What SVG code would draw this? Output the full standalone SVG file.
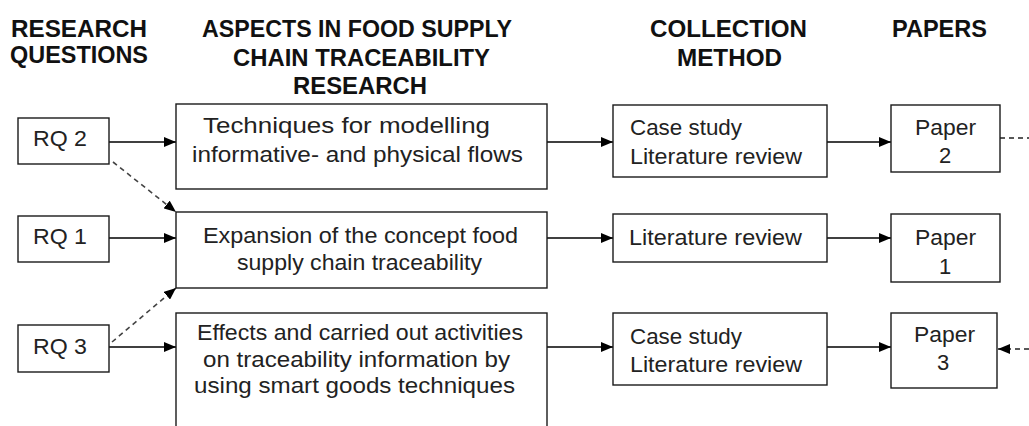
<svg xmlns="http://www.w3.org/2000/svg" width="1029" height="426" viewBox="0 0 1029 426">
<defs>
<marker id="ah" markerUnits="userSpaceOnUse" markerWidth="12" markerHeight="10" refX="12" refY="5" orient="auto">
<path d="M0,0 L12,5 L0,10 z" fill="#000"/>
</marker>
<style>
.box{fill:#fff;stroke:#1a1a1a;stroke-width:1.4}
.t{font-family:"Liberation Sans",Arial,sans-serif;font-size:22px;fill:#222}
.h{font-family:"Liberation Sans",Arial,sans-serif;font-size:23px;font-weight:bold;fill:#111}
.c{stroke:#000;stroke-width:1.4;fill:none}
.d{stroke:#444;stroke-width:1.6;fill:none;stroke-dasharray:5 4}
</style>
</defs>
<rect width="1029" height="426" fill="#fff"/>

<g id="headers">
<text class="h" x="11" y="37" textLength="136" lengthAdjust="spacingAndGlyphs">RESEARCH</text>
<text class="h" x="10" y="63" textLength="138" lengthAdjust="spacingAndGlyphs">QUESTIONS</text>
<text class="h" x="202" y="37" textLength="310" lengthAdjust="spacingAndGlyphs">ASPECTS IN FOOD SUPPLY</text>
<text class="h" x="233" y="66" textLength="257" lengthAdjust="spacingAndGlyphs">CHAIN TRACEABILITY</text>
<text class="h" x="293" y="94" textLength="134" lengthAdjust="spacingAndGlyphs">RESEARCH</text>
<text class="h" x="650" y="37" textLength="157" lengthAdjust="spacingAndGlyphs">COLLECTION</text>
<text class="h" x="677" y="66" textLength="105" lengthAdjust="spacingAndGlyphs">METHOD</text>
<text class="h" x="892" y="37" textLength="95" lengthAdjust="spacingAndGlyphs">PAPERS</text>
</g>

<g id="connectors">
<line class="c" x1="109" y1="142" x2="176" y2="142" marker-end="url(#ah)"/>
<line class="c" x1="547" y1="142" x2="613" y2="142" marker-end="url(#ah)"/>
<line class="c" x1="827" y1="142" x2="891" y2="142" marker-end="url(#ah)"/>
<line class="d" x1="1000" y1="138" x2="1029" y2="138" style="stroke:#222"/>
<line class="c" x1="109" y1="238" x2="176" y2="238" marker-end="url(#ah)"/>
<line class="c" x1="547" y1="238" x2="613" y2="238" marker-end="url(#ah)"/>
<line class="c" x1="827" y1="238" x2="891" y2="238" marker-end="url(#ah)"/>
<line class="c" x1="109" y1="347" x2="176" y2="347" marker-end="url(#ah)"/>
<line class="c" x1="547" y1="347" x2="613" y2="347" marker-end="url(#ah)"/>
<line class="c" x1="827" y1="347" x2="891" y2="347" marker-end="url(#ah)"/>
<line class="d" x1="1029" y1="349" x2="998" y2="349" style="stroke:#222" marker-end="url(#ah)"/>
<line class="d" x1="113" y1="162" x2="176" y2="212" marker-end="url(#ah)"/>
<line class="d" x1="112" y1="342" x2="176" y2="288" marker-end="url(#ah)"/>
</g>

<g id="rq2">
<rect class="box" x="18" y="118" width="91" height="46"/>
<text class="t" x="33" y="146" textLength="54" lengthAdjust="spacingAndGlyphs">RQ 2</text>
</g>
<g id="rq1">
<rect class="box" x="18" y="216" width="91" height="46"/>
<text class="t" x="33" y="244" textLength="54" lengthAdjust="spacingAndGlyphs">RQ 1</text>
</g>
<g id="rq3">
<rect class="box" x="18" y="325" width="91" height="47"/>
<text class="t" x="33" y="354" textLength="54" lengthAdjust="spacingAndGlyphs">RQ 3</text>
</g>

<g id="aspect-techniques">
<rect class="box" x="176" y="104" width="371" height="85"/>
<text class="t" x="203" y="133" textLength="287" lengthAdjust="spacingAndGlyphs">Techniques for modelling</text>
<text class="t" x="192" y="162" textLength="331" lengthAdjust="spacingAndGlyphs">informative- and physical flows</text>
</g>
<g id="aspect-expansion">
<rect class="box" x="176" y="212" width="371" height="76"/>
<text class="t" x="203" y="243" textLength="315" lengthAdjust="spacingAndGlyphs">Expansion of the concept food</text>
<text class="t" x="237" y="270" textLength="245" lengthAdjust="spacingAndGlyphs">supply chain traceability</text>
</g>
<g id="aspect-effects">
<rect class="box" x="176" y="313" width="371" height="130"/>
<text class="t" x="197" y="340" textLength="326" lengthAdjust="spacingAndGlyphs">Effects and carried out activities</text>
<text class="t" x="203" y="367" textLength="307" lengthAdjust="spacingAndGlyphs">on traceability information by</text>
<text class="t" x="194" y="393" textLength="321" lengthAdjust="spacingAndGlyphs">using smart goods techniques</text>
</g>

<g id="method-1">
<rect class="box" x="613" y="105" width="214" height="72"/>
<text class="t" x="630" y="135" textLength="112" lengthAdjust="spacingAndGlyphs">Case study</text>
<text class="t" x="630" y="164" textLength="172" lengthAdjust="spacingAndGlyphs">Literature review</text>
</g>
<g id="method-2">
<rect class="box" x="613" y="214" width="214" height="48"/>
<text class="t" x="629" y="245" textLength="173" lengthAdjust="spacingAndGlyphs">Literature review</text>
</g>
<g id="method-3">
<rect class="box" x="613" y="313" width="214" height="72"/>
<text class="t" x="630" y="344" textLength="112" lengthAdjust="spacingAndGlyphs">Case study</text>
<text class="t" x="630" y="372" textLength="172" lengthAdjust="spacingAndGlyphs">Literature review</text>
</g>

<g id="paper-2">
<rect class="box" x="891" y="105" width="109" height="67"/>
<text class="t" x="915" y="135" textLength="61" lengthAdjust="spacingAndGlyphs">Paper</text>
<text class="t" x="945" y="163" text-anchor="middle">2</text>
</g>
<g id="paper-1">
<rect class="box" x="891" y="214" width="109" height="68"/>
<text class="t" x="915" y="245" textLength="61" lengthAdjust="spacingAndGlyphs">Paper</text>
<text class="t" x="945" y="274" text-anchor="middle">1</text>
</g>
<g id="paper-3">
<rect class="box" x="891" y="313" width="106" height="75"/>
<text class="t" x="914" y="342" textLength="61" lengthAdjust="spacingAndGlyphs">Paper</text>
<text class="t" x="943" y="370" text-anchor="middle">3</text>
</g>
</svg>
